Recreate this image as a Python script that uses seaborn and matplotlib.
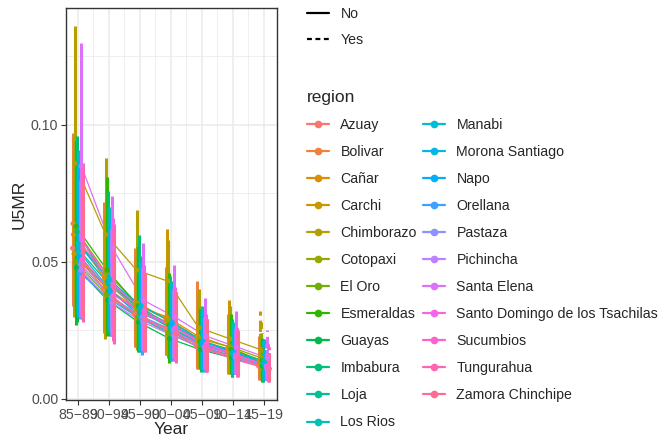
import numpy as np
import pandas as pd
import matplotlib
matplotlib.use('Agg')
import matplotlib.pyplot as plt
from matplotlib.lines import Line2D
import seaborn as sns

periods = ['85\u221289', '90\u221294', '95\u221299', '00\u221204', '05\u221209', '10\u221214', '15\u221219']
projected = ['No', 'No', 'No', 'No', 'No', 'No', 'Yes']

regions = ['Azuay', 'Bolivar', 'Cañar', 'Carchi', 'Chimborazo', 'Cotopaxi',
           'El Oro', 'Esmeraldas', 'Guayas', 'Imbabura', 'Loja', 'Los Rios',
           'Manabi', 'Morona Santiago', 'Napo', 'Orellana', 'Pastaza',
           'Pichincha', 'Santa Elena', 'Santo Domingo de los Tsachilas',
           'Sucumbios', 'Tungurahua', 'Zamora Chinchipe']

u5mr = [
    [0.055, 0.040, 0.031, 0.026, 0.019, 0.016, 0.012],
    [0.064, 0.045, 0.035, 0.029, 0.022, 0.018, 0.014],
    [0.060, 0.044, 0.034, 0.030, 0.023, 0.019, 0.014],
    [0.053, 0.041, 0.033, 0.028, 0.021, 0.017, 0.013],
    [0.086, 0.060, 0.047, 0.043, 0.026, 0.022, 0.018],
    [0.062, 0.046, 0.035, 0.029, 0.022, 0.019, 0.015],
    [0.050, 0.038, 0.030, 0.024, 0.019, 0.016, 0.012],
    [0.063, 0.047, 0.034, 0.027, 0.021, 0.018, 0.014],
    [0.048, 0.036, 0.028, 0.022, 0.018, 0.015, 0.012],
    [0.061, 0.043, 0.033, 0.026, 0.020, 0.017, 0.013],
    [0.055, 0.042, 0.032, 0.026, 0.020, 0.017, 0.013],
    [0.057, 0.044, 0.033, 0.027, 0.021, 0.017, 0.014],
    [0.054, 0.040, 0.030, 0.025, 0.020, 0.016, 0.013],
    [0.056, 0.043, 0.034, 0.028, 0.021, 0.017, 0.013],
    [0.052, 0.039, 0.031, 0.027, 0.020, 0.016, 0.012],
    [0.046, 0.036, 0.029, 0.024, 0.019, 0.015, 0.012],
    [0.049, 0.037, 0.030, 0.025, 0.019, 0.016, 0.012],
    [0.047, 0.035, 0.028, 0.023, 0.018, 0.015, 0.011],
    [0.085, 0.055, 0.036, 0.030, 0.023, 0.019, 0.015],
    [0.058, 0.042, 0.032, 0.026, 0.020, 0.016, 0.012],
    [0.051, 0.038, 0.031, 0.026, 0.019, 0.016, 0.012],
    [0.056, 0.041, 0.029, 0.024, 0.018, 0.014, 0.011],
    [0.049, 0.036, 0.029, 0.024, 0.018, 0.015, 0.011],
]

lower = [
    [0.034, 0.026, 0.019, 0.016, 0.011, 0.009, 0.007],
    [0.038, 0.024, 0.020, 0.016, 0.012, 0.010, 0.008],
    [0.036, 0.025, 0.019, 0.017, 0.012, 0.010, 0.008],
    [0.030, 0.022, 0.019, 0.016, 0.011, 0.009, 0.007],
    [0.031, 0.024, 0.018, 0.016, 0.012, 0.010, 0.008],
    [0.033, 0.026, 0.019, 0.015, 0.012, 0.010, 0.008],
    [0.029, 0.025, 0.018, 0.014, 0.011, 0.009, 0.007],
    [0.027, 0.023, 0.017, 0.013, 0.011, 0.009, 0.006],
    [0.028, 0.025, 0.018, 0.014, 0.011, 0.008, 0.007],
    [0.031, 0.024, 0.017, 0.015, 0.010, 0.008, 0.006],
    [0.032, 0.026, 0.019, 0.015, 0.012, 0.009, 0.007],
    [0.030, 0.025, 0.018, 0.014, 0.011, 0.009, 0.007],
    [0.033, 0.026, 0.019, 0.016, 0.012, 0.010, 0.008],
    [0.031, 0.024, 0.018, 0.015, 0.011, 0.009, 0.007],
    [0.030, 0.023, 0.017, 0.015, 0.011, 0.009, 0.007],
    [0.029, 0.023, 0.016, 0.014, 0.010, 0.009, 0.007],
    [0.030, 0.024, 0.018, 0.015, 0.011, 0.009, 0.007],
    [0.031, 0.025, 0.019, 0.015, 0.012, 0.010, 0.008],
    [0.030, 0.023, 0.018, 0.015, 0.011, 0.009, 0.007],
    [0.030, 0.022, 0.018, 0.014, 0.010, 0.009, 0.007],
    [0.029, 0.021, 0.017, 0.014, 0.010, 0.008, 0.006],
    [0.028, 0.020, 0.017, 0.013, 0.010, 0.008, 0.006],
    [0.030, 0.023, 0.018, 0.015, 0.011, 0.009, 0.007],
]

upper = [
    [0.082, 0.060, 0.045, 0.040, 0.030, 0.026, 0.020],
    [0.097, 0.072, 0.055, 0.048, 0.043, 0.031, 0.023],
    [0.090, 0.068, 0.052, 0.050, 0.038, 0.030, 0.024],
    [0.085, 0.066, 0.050, 0.062, 0.036, 0.036, 0.032],
    [0.136, 0.088, 0.069, 0.058, 0.040, 0.034, 0.028],
    [0.094, 0.072, 0.053, 0.045, 0.034, 0.030, 0.024],
    [0.080, 0.065, 0.048, 0.040, 0.031, 0.027, 0.021],
    [0.094, 0.081, 0.056, 0.046, 0.033, 0.031, 0.024],
    [0.078, 0.070, 0.050, 0.040, 0.030, 0.026, 0.020],
    [0.096, 0.076, 0.060, 0.045, 0.033, 0.029, 0.022],
    [0.088, 0.068, 0.052, 0.042, 0.032, 0.027, 0.021],
    [0.091, 0.070, 0.050, 0.043, 0.034, 0.028, 0.022],
    [0.085, 0.064, 0.046, 0.040, 0.031, 0.026, 0.021],
    [0.087, 0.066, 0.050, 0.042, 0.032, 0.027, 0.021],
    [0.083, 0.062, 0.047, 0.041, 0.031, 0.026, 0.020],
    [0.078, 0.060, 0.046, 0.039, 0.030, 0.025, 0.019],
    [0.080, 0.062, 0.048, 0.040, 0.030, 0.026, 0.020],
    [0.076, 0.058, 0.045, 0.038, 0.029, 0.025, 0.019],
    [0.130, 0.074, 0.057, 0.049, 0.037, 0.032, 0.025],
    [0.086, 0.066, 0.049, 0.041, 0.031, 0.026, 0.020],
    [0.082, 0.062, 0.047, 0.040, 0.030, 0.026, 0.020],
    [0.086, 0.064, 0.046, 0.039, 0.029, 0.024, 0.019],
    [0.080, 0.060, 0.046, 0.039, 0.029, 0.025, 0.019],
]


def hue_pal(n, l=65, c=100):
    # ggplot2 default discrete palette (HCL, polar Luv)
    hues = np.linspace(15, 375, n + 1)[:n]
    xn, yn, zn = 95.047, 100.0, 108.883
    un = 4 * xn / (xn + 15 * yn + 3 * zn)
    vn = 9 * yn / (xn + 15 * yn + 3 * zn)
    out = []
    for h in hues:
        u = c * np.cos(np.radians(h))
        v = c * np.sin(np.radians(h))
        Y = yn * ((l + 16) / 116) ** 3
        up = u / (13 * l) + un
        vp = v / (13 * l) + vn
        X = Y * 9 * up / (4 * vp)
        Z = Y * (12 - 3 * up - 20 * vp) / (4 * vp)
        xyz = np.array([X, Y, Z]) / 100
        m = np.array([[3.2404542, -1.5371385, -0.4985314],
                      [-0.9692660, 1.8760108, 0.0415560],
                      [0.0556434, -0.2040259, 1.0572252]])
        rgb = m @ xyz
        rgb = np.where(rgb <= 0.0031308, 12.92 * rgb,
                       1.055 * np.abs(rgb) ** (1 / 2.4) - 0.055)
        out.append(tuple(np.clip(rgb, 0, 1)))
    return out


colors = hue_pal(len(regions))
pal = dict(zip(regions, colors))

rows = []
dodge = 0.36
n = len(regions)
for i, reg in enumerate(regions):
    off = (i - (n - 1) / 2) / n * dodge
    for j, p in enumerate(periods):
        rows.append({'region': reg, 'Year': p, 'x': j + off,
                     'U5MR': u5mr[i][j], 'lo': lower[i][j], 'hi': upper[i][j],
                     'proj': projected[j]})
df = pd.DataFrame(rows)

sns.set_theme(style='white')
plt.rcParams['font.family'] = ['Liberation Sans', 'DejaVu Sans']

fig = plt.figure(figsize=(6.64, 4.41), dpi=100)
ax = fig.add_axes([66 / 664, 41 / 441, 211 / 664, 392 / 441])

sns.lineplot(data=df, x='x', y='U5MR', hue='region', palette=pal,
             estimator=None, linewidth=0.9, legend=False, ax=ax, zorder=3)
for reg in regions:
    d = df[df['region'] == reg]
    for _, r in d.iterrows():
        ax.vlines(r['x'], r['lo'], r['hi'], color=pal[reg], linewidth=2.2,
                  linestyles='--' if r['proj'] == 'Yes' else '-', zorder=4)
sns.scatterplot(data=df, x='x', y='U5MR', hue='region', palette=pal,
                s=14, linewidth=0, legend=False, ax=ax, zorder=5)

ax.set_xlim(-0.387, 6.42)
ax.set_ylim(-0.0004, 0.1427)
ax.set_xticks(range(len(periods)))
ax.set_xticklabels(periods)
ax.set_xticks(np.arange(0.5, 6.5, 1), minor=True)
ax.set_yticks([0.0, 0.05, 0.10])
ax.set_yticklabels(['0.00', '0.05', '0.10'])
ax.set_yticks([0.025, 0.075, 0.125], minor=True)
ax.grid(which='major', color='#EBEBEB', linewidth=1.1, zorder=0)
ax.grid(which='minor', color='#EBEBEB', linewidth=0.55, zorder=0)
ax.set_axisbelow(True)
for s in ax.spines.values():
    s.set_color('#333333')
    s.set_linewidth(1.0)
ax.tick_params(axis='both', which='major', length=3.5, width=0.8,
               color='#333333', labelsize=10.2, labelcolor='#4D4D4D', pad=2,
               bottom=True, left=True)
ax.tick_params(axis='both', which='minor', length=0)
ax.set_xlabel('Year', fontsize=12.5, labelpad=0)
ax.set_ylabel('U5MR', fontsize=12.5, labelpad=3)

lt_handles = [Line2D([], [], color='black', linewidth=1.6, linestyle='-'),
              Line2D([], [], color='black', linewidth=1.6, linestyle=(0, (2.2, 1.6)))]
fig.legend(lt_handles, ['No', 'Yes'], loc='upper left',
           bbox_to_anchor=(300 / 664, 1 - 0 / 441), frameon=False,
           fontsize=10.2, handlelength=1.55, handletextpad=0.8,
           labelspacing=0.85, borderpad=0)

reg_handles = [Line2D([], [], color=c, linewidth=1.6, marker='o',
                      markersize=4.5) for c in colors]
leg = fig.legend(reg_handles, regions, loc='upper left', ncol=2,
                 bbox_to_anchor=(300 / 664, 1 - 83 / 441), frameon=False,
                 fontsize=10.2, handlelength=1.55, handletextpad=0.8,
                 labelspacing=0.92, columnspacing=0.45, borderpad=0,
                 title='region', title_fontsize=12.5, alignment='left')

fig.savefig('out.png', dpi=100)
